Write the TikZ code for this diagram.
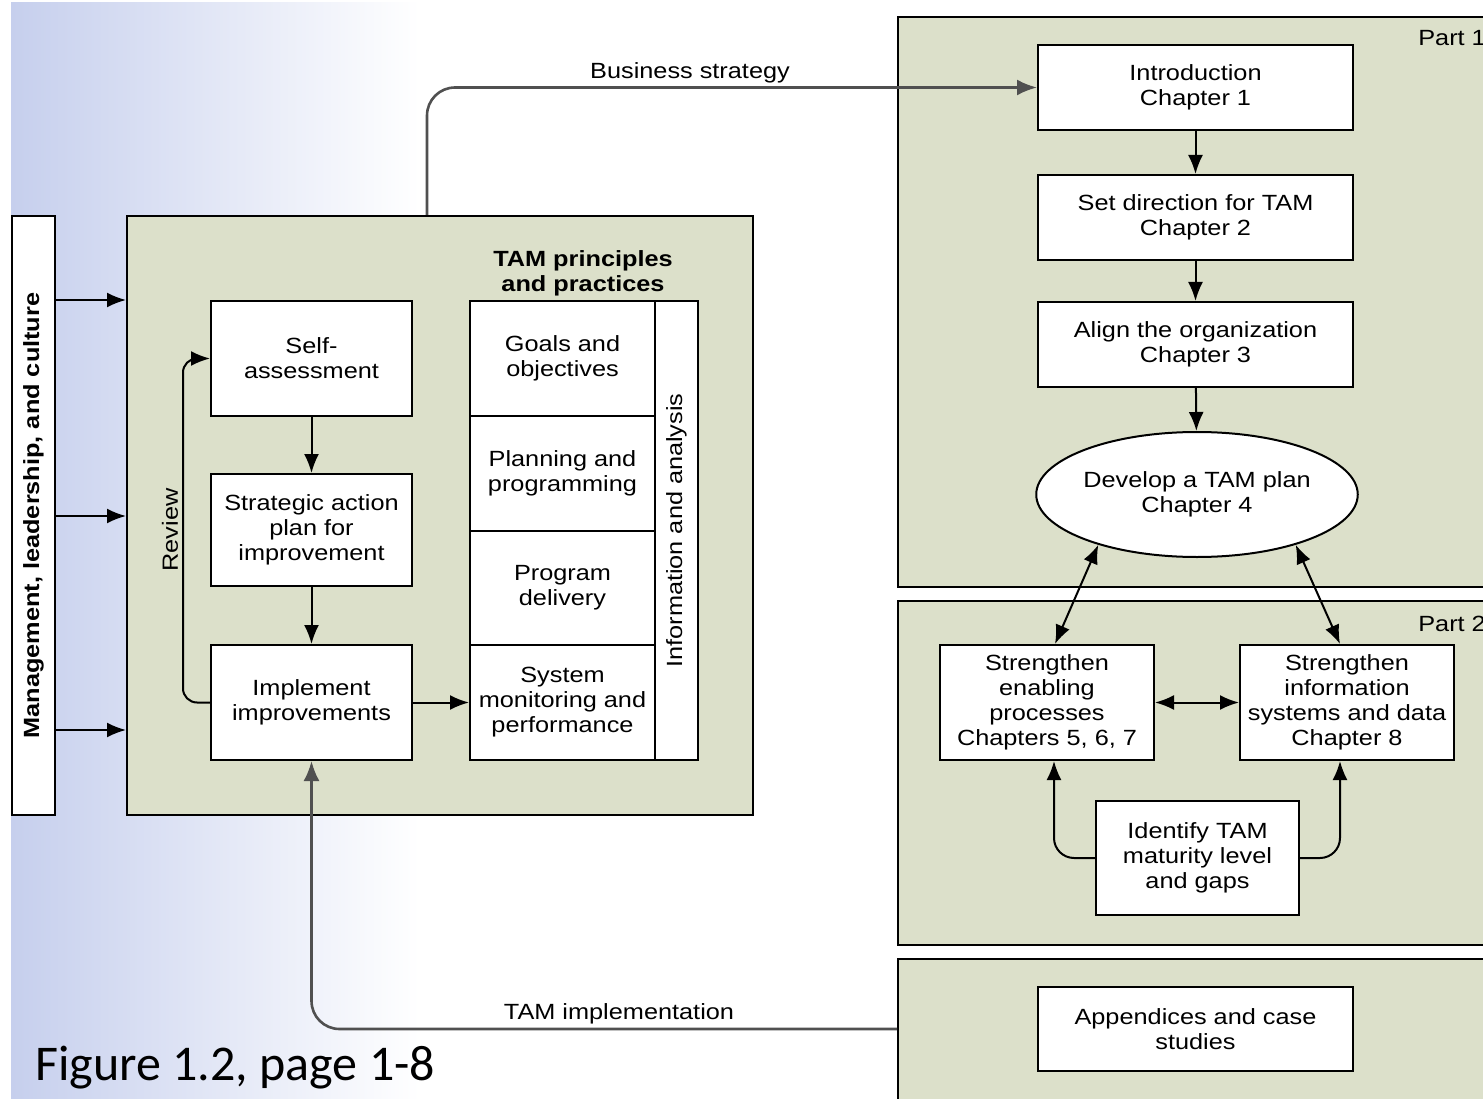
\documentclass[tikz,border=0pt]{standalone}
\usepackage{fontspec}
\setmainfont{Liberation Sans}[FakeStretch=1.15]
\newfontfamily\capfont{Carlito}
\usetikzlibrary{arrows.meta,shapes.geometric,calc}
\definecolor{panel}{RGB}{220,224,202}
\definecolor{grad}{RGB}{198,207,237}
\definecolor{conn}{RGB}{80,80,80}
\begin{document}
\begin{tikzpicture}[x=1pt,y=-1pt,
  txt/.style={font=\fontsize{22}{25}\selectfont},
  box/.style={draw=black, fill=white, line width=2pt, align=center, inner sep=0pt, txt},
  panelbox/.style={draw=black, fill=panel, line width=2pt, inner sep=0pt},
  arr/.style={line width=2pt, -{Latex[length=19pt,width=15pt]}},
  darr/.style={line width=2pt, {Latex[length=19pt,width=15pt]}-{Latex[length=19pt,width=15pt]}},
  garr/.style={line width=2.6pt, draw=conn, rounded corners=28pt, -{Latex[length=20pt,width=16pt]}},
  lbl/.style={txt, inner sep=0pt, align=center}]
\useasboundingbox (0,0) rectangle (1483,1099);
\clip (0,0) rectangle (1483,1099);
\fill[left color=grad, right color=white] (11,3) rectangle (420,1099);

% left block
\node[panelbox, minimum width=626, minimum height=599] (tam) at (440,515.5) {};
\node[box, minimum width=43, minimum height=599] (mgmt) at (33.5,515.5) {};
\node[lbl, rotate=90, font=\bfseries\fontsize{22}{25}\selectfont] (mgmtlbl) at (mgmt) {Management, leadership, and culture};
\coordinate (ya) at (0,300);
\coordinate (yb) at (0,516);
\coordinate (yc) at (0,730);
\draw[arr] (mgmt.east |- ya) -- (tam.west |- ya);
\draw[arr] (mgmt.east |- yb) -- (tam.west |- yb);
\draw[arr] (mgmt.east |- yc) -- (tam.west |- yc);

\node[box, minimum width=201, minimum height=115] (self) at (311.5,358.5) {Self-\\assessment};
\node[box, minimum width=201, minimum height=112] (strat) at (311.5,530) {Strategic action\\plan for\\improvement};
\node[box, minimum width=201, minimum height=115] (impl) at (311.5,702.5) {Implement\\improvements};
\draw[arr] (self) -- (strat);
\draw[arr] (strat) -- (impl);
\coordinate (rv) at (183,358.5);
\draw[arr, rounded corners=14pt] (impl.west) -| (rv) -- (self.west);
\node[lbl, rotate=90] (review) at (170,530) {Review};

\node[lbl, font=\bfseries\fontsize{22}{25}\selectfont] (tamlbl) at (583,273) {TAM principles\\and practices};
\node[box, minimum width=185, minimum height=115] (goals) at (562.5,358.5) {Goals and\\objectives};
\node[box, minimum width=185, minimum height=115] (plan) at (562.5,473.5) {Planning and\\programming};
\node[box, minimum width=185, minimum height=114] (deliv) at (562.5,588) {Program\\delivery};
\node[box, minimum width=185, minimum height=115] (sysm) at (562.5,702.5) {System\\monitoring and\\performance};
\node[box, minimum width=43, minimum height=459] (info) at (676.5,530.5) {};
\node[lbl, rotate=90] (infolbl) at (info) {Information and analysis};
\draw[arr] (impl.east) -- (sysm.west);

% right: part 1
\node[panelbox, minimum width=598, minimum height=570, anchor=north west] (part1) at (897,16) {};
\node[lbl, anchor=east] (p1lbl) at (1486,38) {Part 1};
\node[box, minimum width=315, minimum height=85] (intro) at (1195.5,87.5) {Introduction\\Chapter 1};
\node[box, minimum width=315, minimum height=85] (setdir) at (1195.5,217.5) {Set direction for TAM\\Chapter 2};
\node[box, minimum width=315, minimum height=85] (align) at (1195.5,344.5) {Align the organization\\Chapter 3};
\node[box, ellipse, minimum width=314, minimum height=125] (plan4) at (1197,494.5) {Develop a TAM plan\\Chapter 4};
\draw[arr] (intro) -- (setdir);
\draw[arr] (setdir) -- (align);
\draw[arr] (align) -- (plan4);

% part 2
\node[panelbox, minimum width=598, minimum height=344, anchor=north west] (part2) at (897,600) {};
\node[lbl, anchor=east] (p2lbl) at (1486,624) {Part 2};
\node[box, minimum width=214, minimum height=115] (enab) at (1047,702.5) {Strengthen\\enabling\\processes\\Chapters 5, 6, 7};
\node[box, minimum width=214, minimum height=115] (infosys) at (1347,702.5) {Strengthen\\information\\systems and data\\Chapter 8};
\node[box, minimum width=203, minimum height=114] (ident) at (1197.5,858) {Identify TAM\\maturity level\\and gaps};
\draw[darr] (enab.east) -- (infosys.west);
\draw[darr] (plan4.207) -- ($(enab.north)+(8,0)$);
\draw[darr] (plan4.333) -- ($(infosys.north)+(-7,0)$);
\draw[arr, rounded corners=20pt] (ident.west) -| ($(enab.south)+(7,0)$);
\draw[arr, rounded corners=20pt] (ident.east) -| ($(infosys.south)+(-7,0)$);

% part 3
\node[panelbox, minimum width=598, minimum height=160, anchor=north west] (part3) at (897,958) {};
\node[box, minimum width=315, minimum height=84] (app) at (1195.5,1029) {Appendices and case\\studies};

% long connectors
\coordinate (bx) at (427,0);
\draw[garr] (tam.north -| bx) |- (intro.west);
\node[lbl] (bslbl) at (690,73) {Business strategy};
\draw[garr] (part3.west |- app.west) -| (impl.south);
\node[lbl] (tilbl) at (619,1014) {TAM implementation};

\node[inner sep=0pt, anchor=west, font=\capfont\fontsize{50}{58}\selectfont] (cap) at (35,1068) {Figure 1.2, page 1-8};
\end{tikzpicture}
\end{document}
